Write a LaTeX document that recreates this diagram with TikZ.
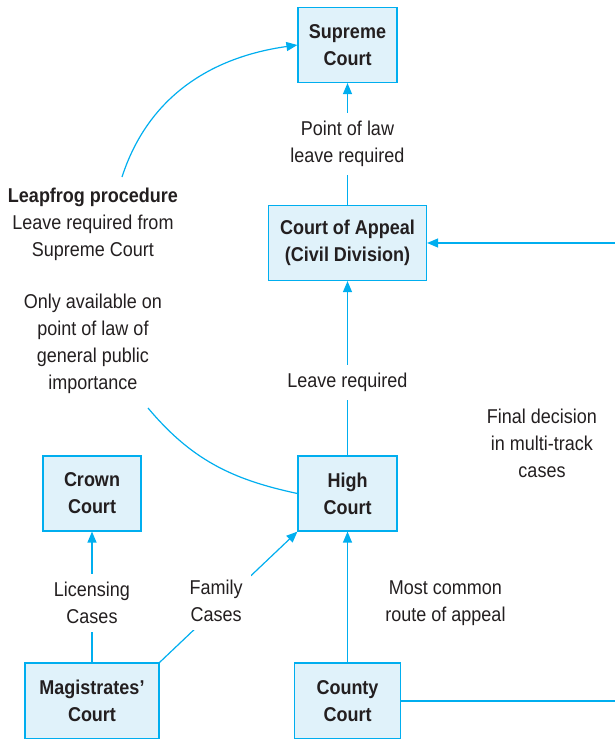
\documentclass[tikz,border=0pt]{standalone}
\usepackage{fontspec}
\setmainfont[FakeStretch=0.9]{Liberation Sans}
\usetikzlibrary{arrows.meta}
\definecolor{courtblue}{RGB}{0,174,239}
\definecolor{courtfill}{RGB}{224,242,250}
\definecolor{inkgray}{RGB}{35,31,32}
\tikzstyle{court}=[rectangle,draw=courtblue,fill=courtfill,line width=1.2pt,text=inkgray,align=center,font=\fontsize{20}{27}\selectfont\bfseries,minimum width=99pt,minimum height=75pt]
\tikzstyle{note}=[text=inkgray,align=center,font=\fontsize{20}{27}\selectfont]
\tikzstyle{gap}=[note,fill=white,inner sep=8pt]

\begin{document}
\begin{tikzpicture}[x=1pt,y=1pt,line width=1.2pt,>={Triangle[length=11pt,width=9pt]}]
      \clip (0,0) rectangle (615,739);
      \node [court] (supreme) at (347.5,694) {Supreme\\Court};
      \node [court] (appeal) [below of=supreme, node distance=198pt, minimum width=158pt] {Court of Appeal\\(Civil Division)};
      \node [court] (high) [below of=appeal, node distance=250.5pt] {High\\Court};
      \node [court] (crown) [left of=high, node distance=255.5pt, minimum width=98pt] {Crown\\Court};
      \node [court] (county) [below of=high, node distance=207.5pt, minimum width=106pt, minimum height=76pt] {County\\Court};
      \node [court] (magistrates) [below of=crown, node distance=207.5pt, minimum width=134pt, minimum height=76pt] {Magistrates'\\Court};
      \node [note] (leapfrog) at (93,514.5) {\textbf{Leapfrog procedure}\\Leave required from\\Supreme Court};
      \node [note] (available) at (93,395) {Only available on\\point of law of\\general public\\importance};
      \node [note] (final) at (542,296) {Final decision\\in multi-track\\cases};
      \coordinate (lfa) at (148,331);
      \coordinate (lfb) at (122,562);
      \draw [->,courtblue] (appeal) -- node[gap]{Point of law\\leave required} (supreme);
      \draw [->,courtblue] (high) -- node[gap,pos=0.42]{Leave required} (appeal);
      \draw [->,courtblue] (county) -- node[note,pos=0.455,right=34pt]{Most common\\route of appeal} (high);
      \draw [->,courtblue] (magistrates) -- node[gap,pos=0.455]{Licensing\\Cases} (crown);
      \draw [->,courtblue] (magistrates.north east) -- node[gap,pos=0.44,xshift=-4pt,yshift=4pt]{Family\\Cases} (high.south west);
      \draw [->,courtblue] (county.east) -- ++(225,0) |- (appeal.east);
      \draw [courtblue] (high.west) to[out=168,in=-50] (lfa);
      \draw [->,courtblue] (lfb) to[out=72,in=188] (supreme.west);
    \end{tikzpicture}
\end{document}
